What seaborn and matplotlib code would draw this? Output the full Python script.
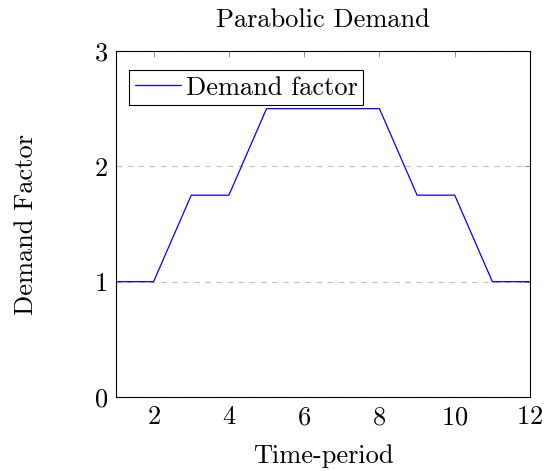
import pandas as pd
import matplotlib
matplotlib.use("Agg")
import matplotlib.pyplot as plt
import seaborn as sns

# data
periods = [1, 2, 3, 4, 5, 6, 7, 8, 9, 10, 11, 12]
demand = [1, 1, 1.75, 1.75, 2.5, 2.5, 2.5, 2.5, 1.75, 1.75, 1, 1]
y_ticks = [0, 1, 2, 3]
x_ticks = [2, 4, 6, 8, 10, 12]

df = pd.DataFrame({"Time-period": periods, "Demand factor": demand})

sns.set_style("white")
plt.rcParams["font.family"] = ["cmr10", "DejaVu Serif"]
plt.rcParams["axes.formatter.use_mathtext"] = True
plt.rcParams["mathtext.fontset"] = "cm"
plt.rcParams["text.color"] = "black"
plt.rcParams["axes.labelcolor"] = "black"
plt.rcParams["xtick.labelcolor"] = "black"
plt.rcParams["ytick.labelcolor"] = "black"

fig = plt.figure(figsize=(5.44, 4.71), dpi=100)
ax = fig.add_axes([0.2132, 0.1571, 0.7611, 0.7346])

sns.lineplot(data=df, x="Time-period", y="Demand factor", color="blue",
             linewidth=0.9, label="Demand factor", ax=ax)

ax.set_xlim(1, 12)
ax.set_ylim(0, 3)
ax.set_xticks(x_ticks)
ax.set_yticks(y_ticks)
ax.yaxis.grid(True, linestyle=(0, (5, 5)), color="#c0c0c0", linewidth=0.8)
ax.set_axisbelow(True)

ax.tick_params(direction="in", length=4, width=0.6, color="#808080",
               top=True, right=True, labelsize=19, pad=6)
for s in ax.spines.values():
    s.set_color("black")
    s.set_linewidth(0.8)

ax.set_title("Parabolic Demand", fontsize=19, pad=17)
ax.set_xlabel("Time-period", fontsize=19, labelpad=11)
ax.set_ylabel("Demand Factor", fontsize=19, labelpad=40)

leg = ax.legend(loc="upper left", bbox_to_anchor=(0.031, 0.945),
                fontsize=19, frameon=True, fancybox=False,
                edgecolor="black", framealpha=1, handlelength=1.74,
                borderpad=0.22, handletextpad=0.19, borderaxespad=0)
leg.get_frame().set_linewidth(0.8)

fig.savefig("out.png", dpi=100)
